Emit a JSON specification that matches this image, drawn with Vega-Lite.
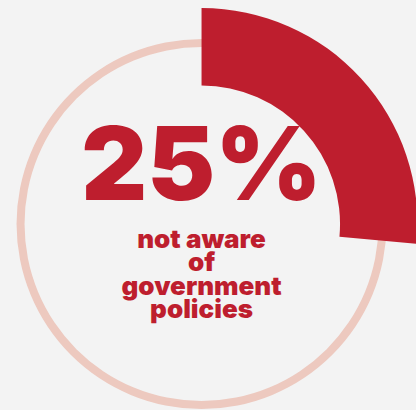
{
  "$schema": "https://vega.github.io/schema/vega-lite/v6.json",
  "width": 416,
  "height": 410,
  "autosize": {"type": "fit", "contains": "padding"},
  "padding": 0,
  "background": "#f3f3f3",
  "config": {"view": {"stroke": null}},
  "data": {"values": [{"share": 0.25, "label": "not aware\nof\ngovernment\npolicies"}]},
  "encoding": {
    "x": {"datum": 0, "type": "quantitative", "scale": {"domain": [-203, 213], "nice": false, "zero": false}, "axis": null},
    "y": {"datum": 0, "type": "quantitative", "scale": {"domain": [-186, 224], "nice": false, "zero": false}, "axis": null}
  },
  "layer": [
    {"mark": {"type": "arc", "radius": 185, "radius2": 177, "theta": 0, "theta2": 6.2832, "color": "#edc9bf"}},
    {
      "mark": {"type": "arc", "radius": 216, "radius2": 138.5, "color": "#be1e2e"},
      "encoding": {"theta": {"field": "share", "type": "quantitative", "scale": {"domain": [0, 0.945]}}}
    },
    {
      "mark": {"type": "text", "font": "Inter", "fontWeight": 900, "fontSize": 102, "color": "#be1e2e", "baseline": "alphabetic", "align": "center"},
      "encoding": {"y": {"datum": 24}, "text": {"field": "share", "type": "quantitative", "format": ".0%"}}
    },
    {
      "mark": {"type": "text", "font": "Inter", "fontWeight": 900, "fontSize": 26, "lineHeight": 23.3, "lineBreak": "\n", "color": "#be1e2e", "baseline": "alphabetic", "align": "center"},
      "encoding": {"y": {"datum": -24}, "text": {"field": "label", "type": "nominal"}}
    }
  ]
}
